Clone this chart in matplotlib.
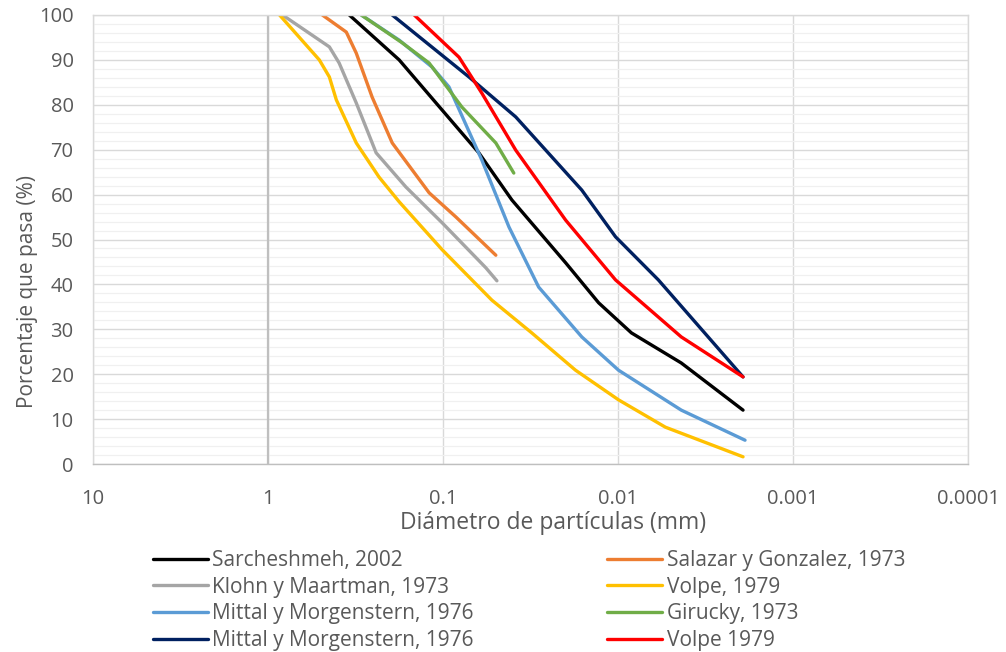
import numpy as np
import matplotlib
matplotlib.use("Agg")
import matplotlib.pyplot as plt
from matplotlib.ticker import FixedLocator, MultipleLocator

plt.rcParams['font.family'] = ['Open Sans', 'DejaVu Sans']

# curves: diameter (mm), percent passing
sarch_d = [0.343, 0.178, 0.101, 0.0624, 0.0404, 0.0199, 0.0129, 0.00838, 0.00435, 0.00193]
sarch_p = [100, 90.0, 78.8, 69.3, 58.8, 44.8, 35.9, 29.2, 22.5, 12.0]

salaz_d = [0.489, 0.357, 0.313, 0.254, 0.195, 0.120, 0.0843, 0.0499]
salaz_p = [100, 96.2, 91.5, 81.7, 71.5, 60.4, 55.0, 46.5]

klohn_d = [0.826, 0.446, 0.392, 0.313, 0.241, 0.163, 0.101, 0.0569, 0.0492]
klohn_p = [100, 92.9, 89.3, 80.4, 69.3, 61.7, 53.7, 43.7, 40.8]

volpe_d = [0.859, 0.509, 0.446, 0.407, 0.313, 0.232, 0.178, 0.101, 0.0526, 0.0311, 0.0175, 0.00994, 0.00536, 0.00193]
volpe_p = [100, 90.0, 86.2, 81.1, 71.5, 63.9, 58.4, 47.7, 36.5, 29.2, 20.9, 14.3, 8.2, 1.6]

mittal1_d = [0.293, 0.178, 0.1155, 0.0925, 0.060, 0.042, 0.0284, 0.0161, 0.00994, 0.00435, 0.00188]
mittal1_p = [100, 94.4, 88.4, 84.0, 67.7, 52.8, 39.4, 28.3, 20.9, 12.0, 5.3]

giru_d = [0.293, 0.171, 0.120, 0.078, 0.0499, 0.0394]
giru_p = [100, 93.8, 89.3, 79.5, 71.5, 64.8]

mittal2_d = [0.195, 0.0711, 0.0384, 0.0161, 0.01033, 0.00588, 0.00193]
mittal2_p = [100, 86.2, 77.3, 61.0, 50.6, 41.0, 19.4]

volpe2_d = [0.146, 0.081, 0.060, 0.0384, 0.0199, 0.01033, 0.00435, 0.00193]
volpe2_p = [100, 90.6, 82.6, 69.9, 54.3, 41.0, 28.3, 19.4]

series = [
    ("Sarcheshmeh, 2002", sarch_d, sarch_p, "#000000"),
    ("Klohn y Maartman, 1973", klohn_d, klohn_p, "#A5A5A5"),
    ("Mittal y Morgenstern, 1976", mittal1_d, mittal1_p, "#5B9BD5"),
    ("Mittal y Morgenstern, 1976", mittal2_d, mittal2_p, "#002060"),
    ("Salazar y Gonzalez, 1973", salaz_d, salaz_p, "#ED7D31"),
    ("Volpe, 1979", volpe_d, volpe_p, "#FFC000"),
    ("Girucky, 1973", giru_d, giru_p, "#70AD47"),
    ("Volpe 1979", volpe2_d, volpe2_p, "#FF0000"),
]
xticks = [10, 1, 0.1, 0.01, 0.001, 0.0001]
xtick_labels = ["10", "1", "0.1", "0.01", "0.001", "0.0001"]

W, H = 1006, 652
fig = plt.figure(figsize=(W/100, H/100), dpi=100)
ax = fig.add_axes([93/W, 1-464/H, (968-93)/W, (464-15)/H])

ax.set_xscale('log')
ax.set_xlim(10, 0.0001)
ax.set_ylim(0, 100)

ax.yaxis.set_major_locator(MultipleLocator(10))
ax.yaxis.set_minor_locator(MultipleLocator(2))
ax.xaxis.set_major_locator(FixedLocator(xticks))
ax.xaxis.set_minor_locator(FixedLocator([]))
ax.set_xticklabels(xtick_labels)

ax.grid(which='major', axis='both', color='#D9D9D9', lw=1.0)
ax.grid(which='minor', axis='y', color='#F0F0F0', lw=0.9)
ax.set_axisbelow(True)
ax.axvline(1, color='#BFBFBF', lw=1.6, zorder=1)

for s in ax.spines.values():
    s.set_color('#D9D9D9')
    s.set_linewidth(1.0)
ax.spines['bottom'].set_color('#BFBFBF')

ax.tick_params(which='both', length=0, labelsize=14.5, colors='#595959')
ax.tick_params(axis='x', pad=18)
ax.tick_params(axis='y', pad=14)

handles = []
for name, d, p, c in series:
    h, = ax.plot(d, p, color=c, lw=2.4, label=name, solid_capstyle='round')
    handles.append(h)

ax.set_xlabel("Diámetro de partículas (mm)", fontsize=16.5, color='#595959')
ax.set_ylabel("Porcentaje que pasa (%)", fontsize=15, color='#595959')
ax.xaxis.set_label_coords((553-93)/875, (464-511)/449)
ax.yaxis.set_label_coords(-(93-38)/875, (464-292)/449)

fig.legend(handles=handles, loc='upper left', bbox_to_anchor=(153/W, 1-550/H),
           ncol=2, frameon=False, fontsize=15, labelcolor='#595959',
           handlelength=2.65, handletextpad=0.2, columnspacing=6.4,
           labelspacing=0.27, borderpad=0, borderaxespad=0)

fig.savefig("out.png", dpi=100)
